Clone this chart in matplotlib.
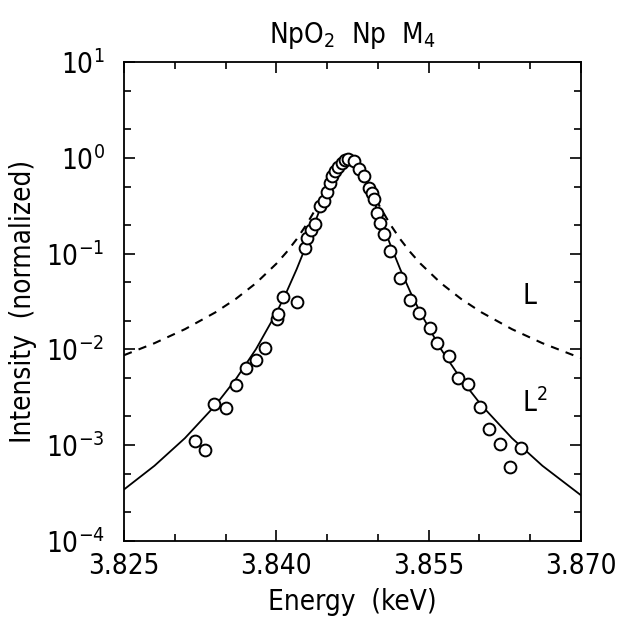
import matplotlib
matplotlib.use("Agg")
import matplotlib.pyplot as plt
from matplotlib.ticker import LogLocator, FixedLocator, MultipleLocator, NullFormatter
from matplotlib import font_manager

# ---- data ----
energy_pts = [3.8320, 3.8330, 3.8339, 3.8350, 3.8360, 3.8370, 3.8380, 3.8389, 3.8401,
              3.8402, 3.8407, 3.8420, 3.8428, 3.8430, 3.8434, 3.8438, 3.8443, 3.8447,
              3.8450, 3.8453, 3.8455, 3.8458, 3.8461, 3.8465, 3.8468, 3.8471, 3.8476,
              3.8481, 3.8486, 3.8491, 3.8494, 3.8496, 3.8499, 3.8502, 3.8506, 3.8512,
              3.8522, 3.8532, 3.8540, 3.8551, 3.8558, 3.8570, 3.8579, 3.8589, 3.8601,
              3.8609, 3.8620, 3.8630, 3.8641]
intensity_pts = [1.11e-3, 8.9e-4, 2.68e-3, 2.42e-3, 4.26e-3, 6.47e-3, 7.71e-3, 1.03e-2, 2.06e-2,
                 2.33e-2, 3.53e-2, 3.15e-2, 0.1135, 0.1466, 0.1747, 0.205, 0.313, 0.353,
                 0.442, 0.548, 0.644, 0.726, 0.80, 0.887, 0.938, 0.96, 0.923,
                 0.755, 0.644, 0.487, 0.432, 0.368, 0.267, 0.21, 0.161, 0.106,
                 0.0561, 0.0326, 0.0242, 0.0169, 0.0118, 8.55e-3, 5.08e-3, 4.33e-3, 2.48e-3,
                 1.47e-3, 1.04e-3, 5.95e-4, 9.25e-4]

curve_energy = [3.825, 3.828, 3.831, 3.834, 3.836, 3.838, 3.840, 3.841, 3.842, 3.843,
                3.844, 3.845, 3.8455, 3.846, 3.8465, 3.8471, 3.8477, 3.8482, 3.8487,
                3.8492, 3.8502, 3.8512, 3.8522, 3.8532, 3.8542, 3.8562, 3.8582, 3.8602,
                3.8632, 3.8662, 3.870]
curve_L = [0.00870, 0.01161, 0.01626, 0.02436, 0.0336, 0.0492, 0.0784, 0.1033, 0.1414, 0.2031,
           0.3084, 0.4928, 0.626, 0.780, 0.9225, 1.0, 0.9225, 0.780, 0.626,
           0.4928, 0.3084, 0.2031, 0.1414, 0.1033, 0.0784, 0.0492, 0.0336, 0.02436,
           0.01626, 0.01161, 0.0081]
curve_L2 = [3.45e-4, 6.10e-4, 1.185e-3, 2.61e-3, 4.87e-3, 0.01008, 0.0240, 0.0396, 0.0687, 0.1258,
            0.2403, 0.4583, 0.613, 0.782, 0.9265, 1.0, 0.9265, 0.782, 0.613,
            0.4583, 0.2403, 0.1258, 0.0687, 0.0396, 0.0240, 0.01008, 4.87e-3, 2.61e-3,
            1.185e-3, 6.10e-4, 3.0e-4]

x_ticks = [3.825, 3.840, 3.855, 3.870]
x_tick_labels = ["3.825", "3.840", "3.855", "3.870"]

# ---- style ----
avail = {f.name for f in font_manager.fontManager.ttflist}
fam = "Liberation Sans Narrow" if "Liberation Sans Narrow" in avail else "DejaVu Sans"
plt.rcParams['font.family'] = [fam, 'DejaVu Sans']
plt.rcParams['font.stretch'] = 'condensed'
plt.rcParams['mathtext.fontset'] = 'custom'
plt.rcParams['mathtext.rm'] = fam + ":stretch=condensed"
plt.rcParams['mathtext.it'] = fam + ":stretch=condensed"
plt.rcParams['mathtext.default'] = 'regular'
plt.rcParams['axes.unicode_minus'] = False

FS = 20

fig = plt.figure(figsize=(6.31, 6.26), dpi=100)
ax = fig.add_axes([124/631, 1-541/626, (581-124)/631, (541-62)/626])

ax.plot(curve_energy, curve_L, color='black', lw=1.5, linestyle=(0, (4, 3.5)), zorder=2)
ax.plot(curve_energy, curve_L2, color='black', lw=1.3, zorder=2)
ax.plot(energy_pts, intensity_pts, linestyle='none', marker='o', markersize=8.5,
        markerfacecolor='white', markeredgecolor='black', markeredgewidth=1.4, zorder=3)

ax.set_yscale('log')
ax.set_xlim(3.825, 3.870)
ax.set_ylim(1e-4, 1e1)
ax.xaxis.set_major_locator(FixedLocator(x_ticks))
ax.set_xticklabels(x_tick_labels)
ax.xaxis.set_minor_locator(MultipleLocator(0.005))
ax.yaxis.set_major_locator(LogLocator(base=10, numticks=10))
ax.yaxis.set_minor_locator(LogLocator(base=10, subs=(2.0, 5.0), numticks=20))
ax.yaxis.set_minor_formatter(NullFormatter())

ax.tick_params(which='both', direction='in', top=True, right=True, width=1.2, colors='black')
ax.tick_params(which='major', length=8, labelsize=FS, pad=8)
ax.tick_params(which='minor', length=5)
ax.tick_params(axis='y', which='major', pad=14)
for s in ax.spines.values():
    s.set_linewidth(1.3)

ax.set_xlabel("Energy  (keV)", fontsize=FS, labelpad=6)
ax.set_ylabel("Intensity  (normalized)", fontsize=FS, labelpad=6)
ax.set_title("NpO$_2$  Np  M$_4$", fontsize=FS, pad=14)

ax.text(3.8642, 0.036, "L", fontsize=FS, ha='left', va='center')
ax.text(3.8642, 2.75e-3, "L$^2$", fontsize=FS, ha='left', va='center')

fig.savefig("out.png", dpi=100)
